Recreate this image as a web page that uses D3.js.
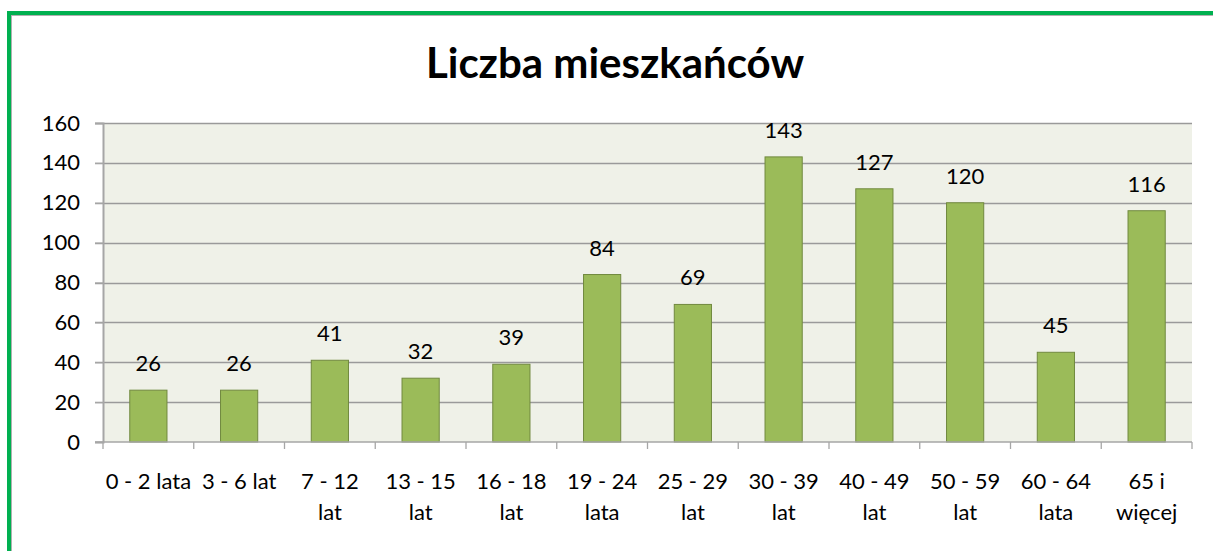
<!DOCTYPE html>
<html>
<head>
<meta charset="utf-8">
<script src="https://cdn.jsdelivr.net/npm/d3@7"></script>
<style>
  body { margin: 0; background: #fff; }
  svg { display: block; font-family: Lato, 'Open Sans', sans-serif; }
</style>
</head>
<body>
<script>
// dane
const categories = ['0 - 2 lata', '3 - 6 lat', '7 - 12|lat', '13 - 15|lat', '16 - 18|lat', '19 - 24|lata',
  '25 - 29|lat', '30 - 39|lat', '40 - 49|lat', '50 - 59|lat', '60 - 64|lata', '65 i|więcej'];
const values = [26, 26, 41, 32, 39, 84, 69, 143, 127, 120, 45, 116];
const yTicks = [0, 20, 40, 60, 80, 100, 120, 140, 160];
const title = 'Liczba mieszkańców';

const W = 1213, H = 551;
const plot = { left: 103, right: 1192, top: 123, bottom: 442 };

const svg = d3.select('body').append('svg').attr('width', W).attr('height', H);

// ramka
svg.append('line').attr('x1', 9).attr('x2', W).attr('y1', 13).attr('y2', 13)
  .attr('stroke', '#00B050').attr('stroke-width', 4);
svg.append('line').attr('x1', 9).attr('x2', 9).attr('y1', 11).attr('y2', H)
  .attr('stroke', '#00B050').attr('stroke-width', 4);
svg.append('line').attr('x1', 11).attr('x2', W).attr('y1', 15.5).attr('y2', 15.5)
  .attr('stroke', '#b0b0b0').attr('stroke-width', 1);
svg.append('line').attr('x1', 11.5).attr('x2', 11.5).attr('y1', 15).attr('y2', H)
  .attr('stroke', '#b0b0b0').attr('stroke-width', 1);

svg.append('text').attr('x', 615).attr('y', 78).attr('text-anchor', 'middle')
  .style('font-size', '42px').style('font-weight', 'bold').attr('fill', '#000').text(title);

const x = d3.scaleBand().domain(categories).range([plot.left, plot.right]).paddingInner(0.59).paddingOuter(0.295);
const xb = d3.scaleBand().domain(categories).range([plot.left, plot.right]);
const y = d3.scaleLinear().domain([0, 160]).range([plot.bottom, plot.top]);

svg.append('rect').attr('x', plot.left).attr('y', plot.top)
  .attr('width', plot.right - plot.left).attr('height', plot.bottom - plot.top).attr('fill', '#EFF1E8');

// siatka
svg.append('g').selectAll('line').data(yTicks.filter((d) => d > 0)).join('line')
  .attr('x1', plot.left - 8).attr('x2', plot.right)
  .attr('y1', (d) => Math.round(y(d)) + 0.5).attr('y2', (d) => Math.round(y(d)) + 0.5)
  .attr('stroke', '#9a9a9a').attr('stroke-width', 1.3);

// słupki
svg.append('g').selectAll('rect').data(values).join('rect')
  .attr('x', (d, i) => x(categories[i]))
  .attr('y', (d) => y(d))
  .attr('width', x.bandwidth())
  .attr('height', (d) => y(0) - y(d))
  .attr('fill', '#9BBB59').attr('stroke', '#71893F').attr('stroke-width', 1);

// etykiety wartości
svg.append('g').selectAll('text').data(values).join('text')
  .attr('x', (d, i) => x(categories[i]) + x.bandwidth() / 2)
  .attr('y', (d) => y(d) - 19)
  .attr('text-anchor', 'middle').style('font-size', '22px').attr('fill', '#000')
  .text((d) => d);

// oś Y
const axisY = d3.axisLeft(y).tickValues(yTicks).tickSize(8).tickPadding(15);
const gy = svg.append('g').attr('transform', `translate(${plot.left},0)`).call(axisY);
gy.select('.domain').attr('stroke', '#a6a6a6').attr('stroke-width', 2);
gy.selectAll('.tick line').attr('stroke', '#a6a6a6').attr('stroke-width', 1.3);
gy.selectAll('.tick text').style('font-size', '22px').attr('fill', '#000').style('font-family', 'Lato, sans-serif');

// oś X
const gx = svg.append('g').attr('transform', `translate(0,${plot.bottom})`);
gx.append('line').attr('x1', plot.left - 8).attr('x2', plot.right).attr('y1', 0).attr('y2', 0)
  .attr('stroke', '#a6a6a6').attr('stroke-width', 1.5);
const edges = categories.map((c) => xb(c)).concat([plot.right]);
gx.selectAll('.edge').data(edges).join('line').attr('class', 'edge')
  .attr('x1', (d) => d).attr('x2', (d) => d).attr('y1', 0).attr('y2', 7)
  .attr('stroke', '#a6a6a6').attr('stroke-width', 1.3);
const labels = gx.selectAll('.lab').data(categories).join('text').attr('class', 'lab')
  .attr('text-anchor', 'middle').style('font-size', '22px').attr('fill', '#000')
  .attr('transform', (d) => `translate(${xb(d) + xb.bandwidth() / 2},0)`);
labels.selectAll('tspan').data((d) => d.split('|')).join('tspan')
  .attr('x', 0).attr('y', (d, i) => 47 + i * 31).text((d) => d);
</script>
</body>
</html>
